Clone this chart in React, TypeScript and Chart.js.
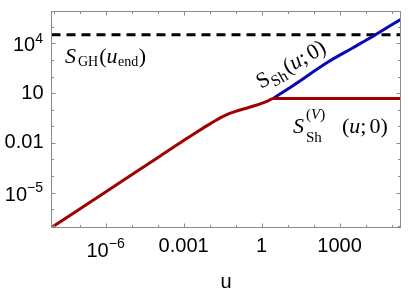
import React, { useEffect, useRef } from "react";
import { Chart, registerables } from "chart.js";

Chart.register(...registerables);

// ---- data ----
const xRange = [8.3e-9, 2.2e5];
const yRange = [7.9e-8, 8.3e5];

const redU = [8.3e-9, 1e-6, 1e-4, 1e-3, 3.16e-3, 0.01, 0.0178, 0.0316, 0.0562, 0.1, 0.178, 0.316, 0.562, 1, 1.78, 2.8, 2.2e5];
const redS = [7.9e-8, 1.1e-5, 1.26e-3, 0.0138, 0.0437, 0.135, 0.229, 0.38, 0.575, 0.794, 1.047, 1.35, 1.78, 2.4, 3.39, 4.8, 4.8];

const blueU = [2.8, 17, 347, 3160, 2.4e4, 2.2e5];
const blueS = [4.8, 30, 724, 5250, 3.3e4, 2.75e5];

const ghU = [8.3e-9, 2.2e5];
const ghS = [3.3e4, 3.3e4];

const xTickValues = [1e-6, 1e-3, 1, 1e3];
const xTickLabels = ["10⁻⁶", "0.001", "1", "1000"];
const yTickValues = [1e-5, 1e-2, 10, 1e4];
const yTickLabels = ["10⁻⁵", "0.01", "10", "10⁴"];

const xDecades = [-8, -7, -6, -5, -4, -3, -2, -1, 0, 1, 2, 3, 4, 5];
const yDecades = [-7, -6, -5, -4, -3, -2, -1, 0, 1, 2, 3, 4, 5];

const xTitle = "u";

const RED = "#a00000";
const BLUE = "#0808b4";
const FRAME = "#8c8c8c";
const SANS = '"Liberation Sans", Arial, sans-serif';
const SERIF = '"Liberation Serif", "Times New Roman", serif';

const pts = (xs: number[], ys: number[]) => xs.map((x, i) => ({ x, y: ys[i] }));

const SUP: Record<string, string> = {
  "⁻": "−", "⁰": "0", "¹": "1", "²": "2", "³": "3", "⁴": "4",
  "⁵": "5", "⁶": "6", "⁷": "7", "⁸": "8", "⁹": "9",
};
const isPow = (s: string) => /[⁻⁰¹²³⁴⁵⁶⁷⁸⁹]/.test(s);
const splitPow = (s: string) => {
  const chars = [...s];
  const i = chars.findIndex((c) => SUP[c] !== undefined);
  return { base: chars.slice(0, i).join(""), exp: chars.slice(i).map((c) => SUP[c]).join("") };
};

const lookup = (vals: number[], labels: string[]) => (v: any) => {
  const n = Number(v);
  for (let i = 0; i < vals.length; i++) {
    if (Math.abs(Math.log10(n) - Math.log10(vals[i])) < 1e-6) return isPow(labels[i]) ? "" : labels[i];
  }
  return "";
};

type Seg = { t: string; font: string; dy?: number; x?: number; gap?: number };

function drawSegs(ctx: CanvasRenderingContext2D, segs: Seg[], x0: number, y0: number) {
  let x = x0;
  for (const s of segs) {
    ctx.font = s.font;
    if (s.x !== undefined) x = x0 + s.x;
    ctx.fillText(s.t, x, y0 + (s.dy || 0));
    x += ctx.measureText(s.t).width + (s.gap || 0);
  }
}

const TICKF = `20px ${SANS}`;
const EXPF = `14px ${SANS}`;

function powWidth(ctx: CanvasRenderingContext2D, base: string, exp: string) {
  ctx.font = TICKF;
  const wb = ctx.measureText(base).width;
  ctx.font = EXPF;
  const we = ctx.measureText(exp).width;
  return { wb, we };
}

const M = `22px ${SERIF}`;
const MI = `italic 22px ${SERIF}`;
const SC = `15px ${SERIF}`;
const SCI = `italic 15px ${SERIF}`;

const framePlugin = {
  id: "frameAndLabels",
  afterDraw(chart: any) {
    const { ctx, chartArea: a, scales } = chart;
    const xs = scales.x;
    const ys = scales.y;
    ctx.save();
    ctx.strokeStyle = FRAME;
    ctx.lineWidth = 1;
    ctx.strokeRect(a.left, a.top, a.right - a.left, a.bottom - a.top);
    ctx.beginPath();
    for (const d of xDecades) {
      const v = Math.pow(10, d);
      if (v < xRange[0] || v > xRange[1]) continue;
      const px = Math.round(xs.getPixelForValue(v)) + 0.5;
      const len = d % 3 === 0 ? 4 : 2.5;
      ctx.moveTo(px, a.bottom);
      ctx.lineTo(px, a.bottom - len);
      ctx.moveTo(px, a.top);
      ctx.lineTo(px, a.top + len);
    }
    for (const d of yDecades) {
      const v = Math.pow(10, d);
      if (v < yRange[0] || v > yRange[1]) continue;
      const py = Math.round(ys.getPixelForValue(v)) + 0.5;
      const len = (d - 1) % 3 === 0 ? 4 : 2.5;
      ctx.moveTo(a.left, py);
      ctx.lineTo(a.left + len, py);
      ctx.moveTo(a.right, py);
      ctx.lineTo(a.right - len, py);
    }
    ctx.stroke();

    // power-of-ten tick labels (base + superscript exponent)
    ctx.fillStyle = "#000";
    ctx.textAlign = "left";
    ctx.textBaseline = "alphabetic";
    xTickValues.forEach((v, i) => {
      const lab = xTickLabels[i];
      if (!isPow(lab)) return;
      const { base, exp } = splitPow(lab);
      const { wb, we } = powWidth(ctx, base, exp);
      const cx = xs.getPixelForValue(v);
      const x0 = cx - (wb + we) / 2;
      ctx.font = TICKF;
      ctx.fillText(base, x0, 257);
      ctx.font = EXPF;
      ctx.fillText(exp, x0 + wb, 248);
    });
    yTickValues.forEach((v, i) => {
      const lab = yTickLabels[i];
      if (!isPow(lab)) return;
      const { base, exp } = splitPow(lab);
      const { wb, we } = powWidth(ctx, base, exp);
      const cy = ys.getPixelForValue(v);
      const xr = a.left - 8.5;
      ctx.font = TICKF;
      ctx.fillText(base, xr - we - wb, cy + 8);
      ctx.font = EXPF;
      ctx.fillText(exp, xr - we, cy - 0.5);
    });

    ctx.font = `20px ${SANS}`;
    ctx.textAlign = "center";
    ctx.fillText(xTitle, (a.left + a.right) / 2, 288);

    ctx.textAlign = "left";
    // S_GH(u_end)
    drawSegs(ctx, [
      { t: "S", font: MI, gap: 2 },
      { t: "GH", font: `14px ${SERIF}`, dy: 3, gap: 1 },
      { t: "(", font: M },
      { t: "u", font: MI, gap: 0.5 },
      { t: "end", font: `14px ${SERIF}`, dy: 3, gap: 0.5 },
      { t: ")", font: M },
    ], 65, 63);

    // S_Sh^(V)(u;0)
    drawSegs(ctx, [
      { t: "S", font: MI, x: 0 },
      { t: "(", font: SC, dy: -14, x: 13 },
      { t: "V", font: SCI, dy: -14 },
      { t: ")", font: SC, dy: -14 },
      { t: "Sh", font: SC, dy: 9, x: 13 },
      { t: "(", font: M, x: 49 },
      { t: "u", font: MI },
      { t: ";", font: M, gap: 3 },
      { t: "0)", font: M },
    ], 293, 133);

    // S_Sh(u;0) rotated along the blue line
    ctx.translate(261, 89);
    ctx.rotate((-29.5 * Math.PI) / 180);
    drawSegs(ctx, [
      { t: "S", font: M, gap: 0.5 },
      { t: "Sh", font: `16px ${SERIF}`, dy: 5, gap: 1 },
      { t: "(", font: M },
      { t: "u", font: MI },
      { t: ";", font: M, gap: 3 },
      { t: "0)", font: M },
    ], 0, 0);
    ctx.restore();
  },
};

const zeroPad = (s: any) => {
  s.paddingTop = 0;
  s.paddingBottom = 0;
  s.paddingLeft = 0;
  s.paddingRight = 0;
};

export default function App() {
  const ref = useRef<HTMLCanvasElement | null>(null);
  useEffect(() => {
    if (!ref.current) return;
    const chart = new Chart(ref.current, {
      type: "scatter",
      data: {
        datasets: [
          {
            data: pts(redU, redS),
            showLine: true,
            borderColor: RED,
            borderWidth: 3,
            pointRadius: 0,
            cubicInterpolationMode: "monotone",
          } as any,
          {
            data: pts(blueU, blueS),
            showLine: true,
            borderColor: BLUE,
            borderWidth: 3,
            pointRadius: 0,
            cubicInterpolationMode: "monotone",
          } as any,
          {
            data: pts(ghU, ghS),
            showLine: true,
            borderColor: "#000",
            borderWidth: 3,
            borderDash: [9, 6],
            pointRadius: 0,
          } as any,
        ],
      },
      options: {
        animation: false,
        responsive: false,
        maintainAspectRatio: false,
        events: [],
        layout: { padding: { top: 11.5, right: 8.5, left: 0, bottom: 0 } },
        plugins: { legend: { display: false }, tooltip: { enabled: false } },
        scales: {
          x: {
            type: "logarithmic",
            min: xRange[0],
            max: xRange[1],
            position: "bottom",
            grid: { display: false, drawTicks: false },
            border: { display: false },
            ticks: {
              font: { family: SANS, size: 20 },
              color: "#000",
              padding: 7,
              maxRotation: 0,
              autoSkip: false,
              callback: lookup(xTickValues, xTickLabels),
            },
            afterBuildTicks: (s: any) => {
              s.ticks = xTickValues.map((v) => ({ value: v }));
            },
            afterFit: (s: any) => {
              s.height = 68.5;
              zeroPad(s);
            },
          },
          y: {
            type: "logarithmic",
            min: yRange[0],
            max: yRange[1],
            grid: { display: false, drawTicks: false },
            border: { display: false },
            ticks: {
              font: { family: SANS, size: 20 },
              color: "#000",
              padding: 8,
              autoSkip: false,
              callback: lookup(yTickValues, yTickLabels),
            },
            afterBuildTicks: (s: any) => {
              s.ticks = yTickValues.map((v) => ({ value: v }));
            },
            afterFit: (s: any) => {
              s.width = 51.5;
              zeroPad(s);
            },
          },
        },
      } as any,
      plugins: [framePlugin],
    });
    return () => chart.destroy();
  }, []);
  return (
    <div style={{ position: "fixed", left: 0, top: 0, width: 409, height: 296, background: "#fff" }}>
      <canvas ref={ref} width={409} height={296} style={{ width: 409, height: 296 }} />
    </div>
  );
}
